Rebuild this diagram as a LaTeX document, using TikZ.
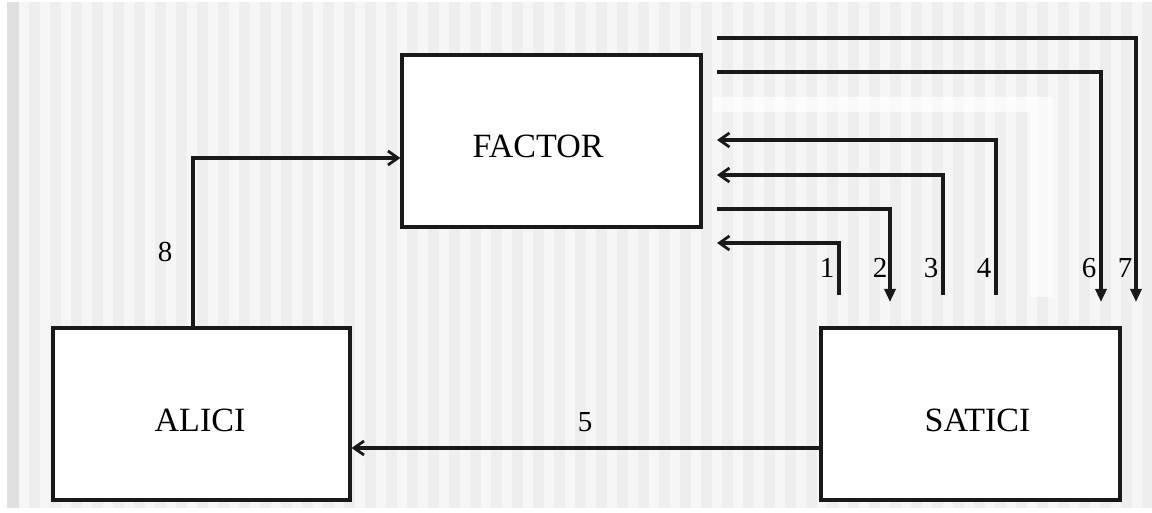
\documentclass[tikz,border=0pt]{standalone}
\usepackage{fontspec}
\setmainfont{Liberation Serif}
\usetikzlibrary{arrows.meta}
\definecolor{stripeA}{HTML}{F6F6F6}
\definecolor{stripeB}{HTML}{EEEEEE}
\definecolor{edgeband}{HTML}{E0E0E0}
\begin{document}
\begin{tikzpicture}[x=1pt,y=-1pt,
  box/.style={draw=black!90, line width=3.2pt, fill=white, inner sep=0pt},
  lbl/.style={font=\fontsize{34}{38}\selectfont, inner sep=0pt},
  num/.style={font=\fontsize{29}{32}\selectfont, inner sep=0pt},
  flow/.style={draw=black!90, line width=3.2pt},
  fwd/.style={flow, -{Straight Barb[length=10pt,width=14pt,line width=2.8pt]}},
  back/.style={flow, -{Straight Barb[length=10pt,width=14pt,line width=2.8pt]}},
  down/.style={flow, -{Triangle[length=13pt,width=11pt]}}]
\useasboundingbox (0,0) rectangle (1152,513);

% striped backdrop
\fill[white] (0,0) rectangle (1152,513);
\fill[stripeA] (7,2) rectangle (1143,508);
\fill[edgeband] (7,2) rectangle (19,508);
\foreach \i in {0,...,53} {
  \fill[stripeB] ({29+\i*21},2) rectangle ({39.5+\i*21},508);
}
% pale L-shaped band
\fill[white, opacity=0.7] (713,97) -- (1053,97) -- (1053,297) -- (1030,297)
  -- (1030,112) -- (713,112) -- cycle;

% boxes
\node[box, minimum width=299pt, minimum height=172pt] (factor) at (551.5,141) {};
\node[box, minimum width=297pt, minimum height=172pt] (alici) at (201.5,414) {};
\node[box, minimum width=299pt, minimum height=172pt] (satici) at (970.5,414) {};
\node[lbl] (tfactor) at (538,146.5) {FACTOR};
\node[lbl] (talici) at (200,420) {ALICI};
\node[lbl] (tsatici) at (977.5,420) {SATICI};

% free ends of the numbered flows
\coordinate (f1) at (717,243); \coordinate (s1) at (839,295);
\coordinate (f2) at (717,209); \coordinate (s2) at (890,302);
\coordinate (f3) at (717,175); \coordinate (s3) at (943,295);
\coordinate (f4) at (717,140); \coordinate (s4) at (996,295);
\coordinate (f6) at (717,72);  \coordinate (s6) at (1101,302);
\coordinate (f7) at (717,38);  \coordinate (s7) at (1136,302);

% flows
\draw[back] (s1) |- (f1);
\draw[down] (f2) -| (s2);
\draw[back] (s3) |- (f3);
\draw[back] (s4) |- (f4);
\draw[down] (f6) -| (s6);
\draw[down] (f7) -| (s7);
\draw[back] ([yshift=-34pt]satici.west) -- ([yshift=-34pt]alici.east);
\draw[fwd] ([xshift=-8.5pt]alici.north) |- ([yshift=-17pt]factor.west);

% flow numbers
\node[num] (n1) at (827,268) {1};
\node[num] (n2) at (880,268) {2};
\node[num] (n3) at (931,268) {3};
\node[num] (n4) at (984,268) {4};
\node[num] (n5) at (585,422) {5};
\node[num] (n6) at (1089,268) {6};
\node[num] (n7) at (1125,268) {7};
\node[num] (n8) at (165,252) {8};
\end{tikzpicture}
\end{document}
